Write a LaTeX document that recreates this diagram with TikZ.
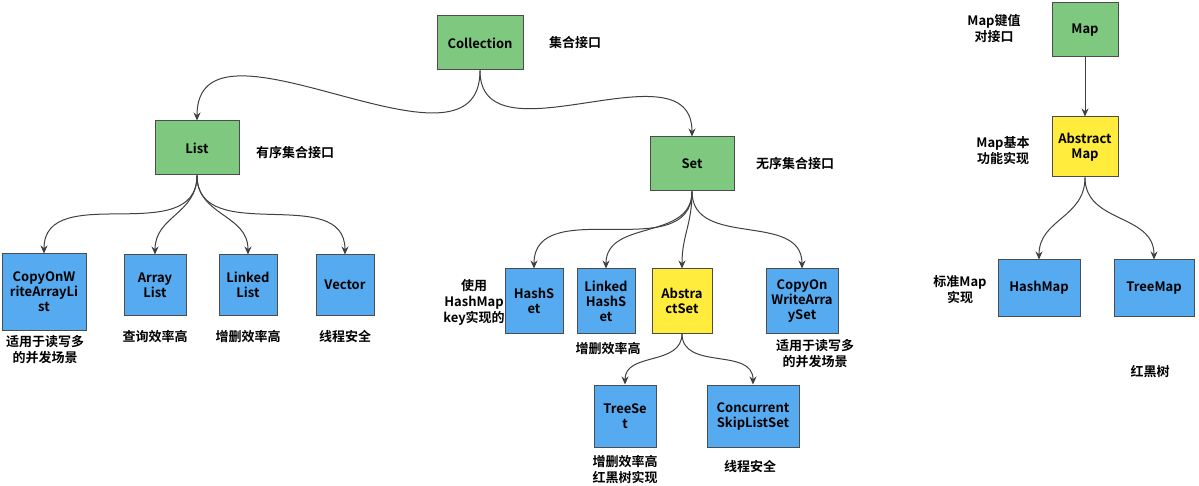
\documentclass[tikz,border=0pt]{standalone}
\usepackage{fontspec}
\setmainfont{Noto Sans CJK SC}[BoldFont={Noto Sans CJK SC Bold}]
\usetikzlibrary{arrows.meta}
\definecolor{gr}{RGB}{126,200,128}
\definecolor{bl}{RGB}{86,170,240}
\definecolor{ye}{RGB}{255,236,60}
\begin{document}
\begin{tikzpicture}[x=0.5pt,y=-0.5pt,
 box/.style={draw=black!70,line width=0.5pt,font=\fontsize{6.5}{7.5}\selectfont\bfseries,align=center,inner sep=1pt},
 G/.style={box,fill=gr,minimum width=43pt,minimum height=27pt},
 B/.style={box,fill=bl,minimum width=29pt,minimum height=30pt,text width=27pt},
 Y/.style={box,fill=ye},
 lab/.style={font=\fontsize{6.5}{8}\selectfont\bfseries,align=center},
 e/.style={draw=black!75,line width=0.5pt,-{Stealth[length=4pt,width=3.5pt]}}]
\useasboundingbox (0,0) rectangle (1199,486);
\node[G] (col) at (480,43) {Collection};
\node[G,minimum width=33pt] (map) at (1085,30) {Map};
\node[G,minimum width=42pt] (list) at (197,148) {List};
\node[G,minimum width=42pt] (set) at (692,164) {Set};
\node[Y,minimum width=33pt,minimum height=30pt,text width=31pt] (am) at (1085,147) {Abstract\\Map};
\node[B,minimum width=42pt,minimum height=38pt,text width=40pt] (cowal) at (44,292) {CopyOnW\\riteArrayLi\\st};
\node[B,minimum width=31pt] (al) at (155,285) {Array\\List};
\node[B] (ll) at (248,285) {Linked\\List};
\node[B] (vec) at (345,285) {Vector};
\node[B,minimum height=32pt] (hs) at (534,301) {HashS\\et};
\node[B,minimum height=32pt] (lhs) at (606,301) {Linked\\HashS\\et};
\node[Y,minimum width=29pt,minimum height=32pt,text width=28pt] (as) at (682,301) {Abstra\\ctSet};
\node[B,minimum width=36pt,minimum height=32pt,text width=34pt] (cowas) at (802,301) {CopyOn\\WriteArra\\ySet};
\node[B,minimum width=41pt,minimum height=28pt,text width=39pt] (hm) at (1039,288) {HashMap};
\node[B,minimum width=40pt,minimum height=28pt,text width=38pt] (tm) at (1154,288) {TreeMap};
\node[B,minimum width=31pt,minimum height=31pt] (ts) at (625,416) {TreeSe\\t};
\node[B,minimum width=44pt,minimum height=31pt,text width=44pt] (csls) at (753,416) {Concurrent\\SkipListSet};
\node[lab] (t1) at (575,43) {集合接口};
\node[lab] (t2) at (295,153) {有序集合接口};
\node[lab] (t3) at (795,164) {无序集合接口};
\node[lab] (t4) at (994,29) {Map键值\\对接口};
\node[lab] (t5) at (1003,151) {Map基本\\功能实现};
\node[lab] (t6) at (960,290) {标准Map\\实现};
\node[lab] (t7) at (1150,372) {红黑树};
\node[lab] (t8) at (45,350) {适用于读写多\\的并发场景};
\node[lab] (t9) at (155,337) {查询效率高};
\node[lab] (t10) at (248,337) {增删效率高};
\node[lab] (t11) at (345,337) {线程安全};
\node[lab] (t12) at (474,302) {使用\\HashMap\\key实现的};
\node[lab] (t13) at (608,349) {增删效率高};
\node[lab] (t14) at (815,354) {适用于读写多\\的并发场景};
\node[lab] (t15) at (625,470) {增删效率高\\红黑树实现};
\node[lab] (t16) at (750,467) {线程安全};
\foreach \a/\b in {col/list,col/set,list/cowal,list/al,list/ll,list/vec,set/hs,set/lhs,set/as,set/cowas,as/ts,as/csls,am/hm,am/tm}
  \draw[e] (\a.south) to[out=-90,in=90,looseness=1.1] (\b.north);
\draw[e] (map) -- (am);
\end{tikzpicture}
\end{document}
